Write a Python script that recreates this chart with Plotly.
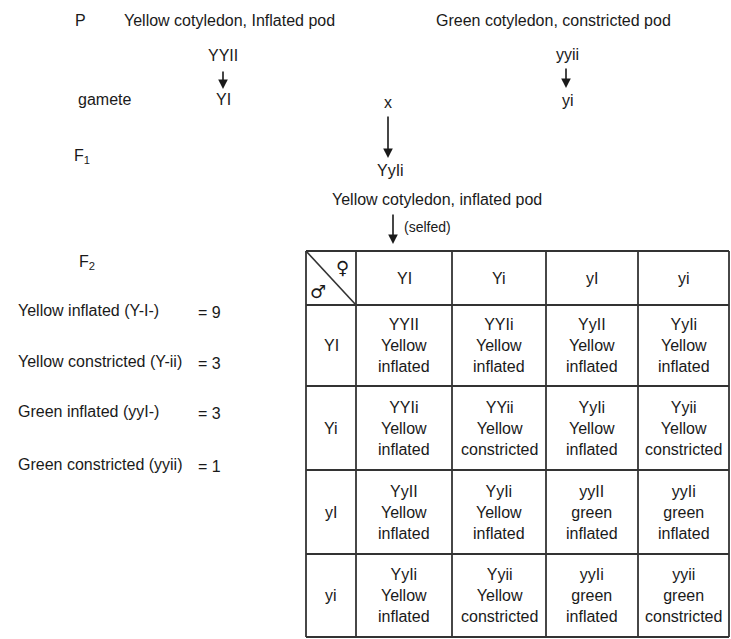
import plotly.graph_objects as go

# ---------------- data ----------------
parent_phenotypes = ["Yellow cotyledon, Inflated pod", "Green cotyledon, constricted pod"]
parent_genotypes = ["YYII", "yyii"]
parent_gametes = ["YI", "yi"]
f1_genotype = "YyIi"
f1_phenotype = "Yellow cotyledon, inflated pod"

female_gametes = ["YI", "Yi", "yI", "yi"]
male_gametes = ["YI", "Yi", "yI", "yi"]
offspring_genotypes = [
    ["YYII", "YYIi", "YyII", "YyIi"],
    ["YYIi", "YYii", "YyIi", "Yyii"],
    ["YyII", "YyIi", "yyII", "yyIi"],
    ["YyIi", "Yyii", "yyIi", "yyii"],
]
offspring_colour = [
    ["Yellow", "Yellow", "Yellow", "Yellow"],
    ["Yellow", "Yellow", "Yellow", "Yellow"],
    ["Yellow", "Yellow", "green", "green"],
    ["Yellow", "Yellow", "green", "green"],
]
offspring_pod = [
    ["inflated", "inflated", "inflated", "inflated"],
    ["inflated", "constricted", "inflated", "constricted"],
    ["inflated", "inflated", "inflated", "inflated"],
    ["inflated", "constricted", "inflated", "constricted"],
]
f2_classes = ["Yellow inflated (Y-I-)", "Yellow constricted (Y-ii)",
              "Green inflated (yyI-)", "Green constricted (yyii)"]
f2_counts = [9, 3, 3, 1]

# ---------------- layout ----------------
W, H = 731, 639
FONT = "Liberation Sans Narrow, Arial Narrow, Liberation Sans, Arial, sans-serif"
SYMFONT = "DejaVu Sans, sans-serif"
INK = "#1a1a1a"
FS = 16

col_edges = [306, 356, 452, 546, 638, 729]
row_edges = [251, 305, 386, 470, 554, 637]

fig = go.Figure()
shapes = []
ann = []


def text(x, y, s, size=FS, xanchor="center", family=FONT):
    ann.append(dict(x=x, y=y, text=s, showarrow=False, xanchor=xanchor, yanchor="middle",
                    font=dict(family=family, size=size, color=INK)))


def arrow(x, y0, y1):
    ann.append(dict(x=x, y=y1, ax=x, ay=y0, xref="x", yref="y", axref="x", ayref="y",
                    text="", showarrow=True, arrowhead=2, arrowsize=1.2, arrowwidth=1.6,
                    arrowcolor=INK, font=dict(size=10)))


def line(x0, y0, x1, y1, w=1.8):
    shapes.append(dict(type="line", x0=x0, y0=y0, x1=x1, y1=y1, xref="x", yref="y",
                       line=dict(color="#333333", width=w)))


# Parental generation
text(80, 20, "P")
text(229, 20, parent_phenotypes[0])
text(553, 20, parent_phenotypes[1])
text(223, 55, parent_genotypes[0])
text(567, 54, parent_genotypes[1])
arrow(223, 70, 89)
arrow(566, 67, 88)
text(104, 99, "gamete")
text(223, 99, parent_gametes[0])
text(568, 100, parent_gametes[1])
text(388, 102, "x")
arrow(388, 115, 158)

# F1
text(82, 156, "F<sub>1</sub>")
text(390, 170, f1_genotype)
text(437, 199, f1_phenotype)
arrow(393, 213, 244)
text(402, 227, "(selfed)", size=14, xanchor="left")

# F2 summary
text(87, 262, "F<sub>2</sub>")
f2_y = [310, 361, 411, 464]
for lbl, cnt, yy in zip(f2_classes, f2_counts, f2_y):
    text(16, yy, lbl, xanchor="left")
    text(196, yy + 2, "= %d" % cnt, xanchor="left")

# Punnett square grid
for xe in col_edges:
    line(xe, row_edges[0], xe, row_edges[-1])
for ye in row_edges:
    line(col_edges[0], ye, col_edges[-1], ye)
line(col_edges[0], row_edges[0], col_edges[1], row_edges[1], w=1.6)
text(342, 267, "♀", size=18, family=SYMFONT)
text(318, 291, "♂", size=18, family=SYMFONT)

for j, g in enumerate(female_gametes):
    cx = (col_edges[j + 1] + col_edges[j + 2]) / 2
    text(cx, (row_edges[0] + row_edges[1]) / 2, g)
for i, g in enumerate(male_gametes):
    cy = (row_edges[i + 1] + row_edges[i + 2]) / 2
    text((col_edges[0] + col_edges[1]) / 2, cy, g)
    for j in range(4):
        cx = (col_edges[j + 1] + col_edges[j + 2]) / 2
        s = "%s<br>%s<br>%s" % (offspring_genotypes[i][j], offspring_colour[i][j], offspring_pod[i][j])
        text(cx, cy, s)

fig.update_layout(
    width=W, height=H, margin=dict(l=0, r=0, t=0, b=0),
    paper_bgcolor="white", plot_bgcolor="white",
    xaxis=dict(range=[0, W], visible=False, fixedrange=True),
    yaxis=dict(range=[H, 0], visible=False, fixedrange=True),
    shapes=shapes, annotations=ann, showlegend=False,
)
fig.write_html("out.html", config={"displayModeBar": False},
               post_script="document.body.style.margin='0';document.body.style.padding='0';document.body.style.overflow='hidden';")
